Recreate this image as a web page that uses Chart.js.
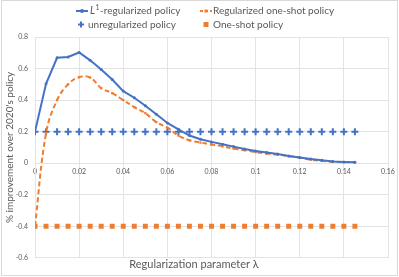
<!DOCTYPE html>
<html>
<head>
<meta charset="utf-8">
<script src="https://cdn.jsdelivr.net/npm/chart.js@4.4.1/dist/chart.umd.min.js"></script>
<style>
  html, body { margin: 0; padding: 0; background: #fff; }
  #wrap { position: relative; width: 399px; height: 277px; }
</style>
</head>
<body>
<div id="wrap"><canvas id="grafico"></canvas></div>
<script>
// dados
var lambdas = [0, 0.005, 0.01, 0.015, 0.02, 0.025, 0.03, 0.035, 0.04, 0.045,
  0.05, 0.055, 0.06, 0.065, 0.07, 0.075, 0.08, 0.085, 0.09, 0.095,
  0.1, 0.105, 0.11, 0.115, 0.12, 0.125, 0.13, 0.135, 0.14, 0.145];
var l1Policy = [0.2, 0.503, 0.668, 0.673, 0.702, 0.652, 0.594, 0.530, 0.457, 0.415,
  0.364, 0.310, 0.255, 0.215, 0.175, 0.152, 0.135, 0.120, 0.105, 0.090,
  0.077, 0.067, 0.058, 0.046, 0.036, 0.026, 0.018, 0.011, 0.008, 0.006];
var regOneShot = [-0.4, 0.19, 0.40, 0.50, 0.545, 0.543, 0.476, 0.444, 0.400, 0.356,
  0.317, 0.260, 0.225, 0.175, 0.145, 0.131, 0.118, 0.107, 0.093, 0.082,
  0.070, 0.061, 0.054, 0.045, 0.035, 0.022, 0.015, 0.009, 0.007, 0.005];
var unregPolicy = [0.2, 0.2, 0.2, 0.2, 0.2, 0.2, 0.2, 0.2, 0.2, 0.2,
  0.2, 0.2, 0.2, 0.2, 0.2, 0.2, 0.2, 0.2, 0.2, 0.2,
  0.2, 0.2, 0.2, 0.2, 0.2, 0.2, 0.2, 0.2, 0.2, 0.2];
var oneShotPolicy = [-0.4, -0.4, -0.4, -0.4, -0.4, -0.4, -0.4, -0.4, -0.4, -0.4,
  -0.4, -0.4, -0.4, -0.4, -0.4, -0.4, -0.4, -0.4, -0.4, -0.4,
  -0.4, -0.4, -0.4, -0.4, -0.4, -0.4, -0.4, -0.4, -0.4, -0.4];
var xTicks = [0, 0.02, 0.04, 0.06, 0.08, 0.1, 0.12, 0.14, 0.16];
var yTicks = [-0.6, -0.4, -0.2, 0, 0.2, 0.4, 0.6, 0.8];

var AZUL = '#4472C4';
var LARANJA = '#ED7D31';
var CINZA = '#595959';
var GRADE = '#e3e3e3';
var FONTE = 'Lato, "Liberation Sans", sans-serif';

function pontos(valores) {
  return lambdas.map(function (x, i) { return { x: x, y: valores[i] }; });
}

// fundo branco + moldura do grafico
var moldura = {
  id: 'moldura',
  beforeDraw: function (chart) {
    var c = chart.ctx;
    c.save();
    c.fillStyle = '#fff';
    c.fillRect(0, 0, chart.width, chart.height);
    c.strokeStyle = '#d9d9d9';
    c.lineWidth = 1;
    c.strokeRect(1.5, 0.5, chart.width - 3, chart.height - 2);
    c.restore();
  }
};

// legenda em grade 2x2 (estilo Excel)
var legenda = {
  id: 'legenda',
  afterDraw: function (chart) {
    var c = chart.ctx;
    c.save();
    c.font = '10px ' + FONTE;
    c.fillStyle = CINZA;
    c.textBaseline = 'middle';

    // L1-regularized
    var y1 = 11;
    c.strokeStyle = AZUL; c.lineWidth = 2;
    c.beginPath(); c.moveTo(76, y1); c.lineTo(88, y1); c.stroke();
    c.fillStyle = AZUL;
    c.beginPath(); c.arc(82, y1, 2, 0, Math.PI * 2); c.fill();
    c.fillStyle = CINZA;
    c.font = 'italic 10.5px ' + FONTE;
    c.fillText('L', 90, y1);
    var w = c.measureText('L').width;
    c.font = '7px ' + FONTE;
    c.fillText('1', 90 + w + 0.5, y1 - 3);
    var w2 = c.measureText('1').width;
    c.font = '10px ' + FONTE;
    c.fillText('-regularized policy', 90 + w + w2 + 1, y1);

    // Regularized one-shot
    c.strokeStyle = LARANJA; c.setLineDash([3, 2]);
    c.beginPath(); c.moveTo(200, y1); c.lineTo(212, y1); c.stroke();
    c.setLineDash([]);
    c.fillStyle = LARANJA;
    c.fillRect(204.5, y1 - 1.5, 3, 3);
    c.fillStyle = CINZA;
    c.fillText('Regularized one-shot policy', 213, y1);

    // unregularized
    var y2 = 24.5;
    c.strokeStyle = AZUL; c.lineWidth = 2;
    c.beginPath();
    c.moveTo(78, y2); c.lineTo(84, y2);
    c.moveTo(81, y2 - 3); c.lineTo(81, y2 + 3);
    c.stroke();
    c.fillText('unregularized policy', 88, y2);

    // One-shot
    c.fillStyle = LARANJA;
    c.fillRect(203.5, y2 - 2.5, 5, 5);
    c.fillStyle = CINZA;
    c.fillText('One-shot policy', 213, y2);
    c.restore();
  }
};

var ctx = document.getElementById('grafico').getContext('2d');
var grafico = new Chart(ctx, {
  type: 'line',
  data: {
    datasets: [{
      label: 'L1-regularized policy',
      data: pontos(l1Policy),
      borderColor: AZUL,
      backgroundColor: AZUL,
      borderWidth: 2,
      pointRadius: 1.5,
      pointBorderWidth: 0,
      tension: 0,
      order: 1
    }, {
      label: 'Regularized one-shot policy',
      data: pontos(regOneShot),
      borderColor: LARANJA,
      backgroundColor: LARANJA,
      borderWidth: 2,
      borderDash: [5, 3],
      pointStyle: 'rect',
      pointRadius: 1.6,
      pointBorderWidth: 0,
      tension: 0.4,
      order: 2
    }, {
      label: 'unregularized policy',
      data: pontos(unregPolicy),
      showLine: false,
      borderColor: AZUL,
      backgroundColor: AZUL,
      pointStyle: 'cross',
      pointRadius: 3.5,
      pointBorderWidth: 2,
      order: 3
    }, {
      label: 'One-shot policy',
      data: pontos(oneShotPolicy),
      showLine: false,
      borderColor: LARANJA,
      backgroundColor: LARANJA,
      pointStyle: 'rect',
      pointRadius: 3.5,
      pointBorderWidth: 0,
      order: 4
    }]
  },
  options: {
    responsive: true,
    maintainAspectRatio: false,
    animation: false,
    layout: { padding: { top: 37, right: 11, left: 0, bottom: 6 } },
    plugins: {
      legend: { display: false },
      tooltip: { enabled: false },
      title: {
        display: true,
        position: 'bottom',
        text: 'Regularization parameter \u03bb',
        color: CINZA,
        font: { family: FONTE, size: 11, weight: 'normal' },
        padding: { top: 0, bottom: 0 }
      }
    },
    scales: {
      x: {
        type: 'linear',
        position: { y: 0 },
        min: 0,
        max: 0.16,
        afterBuildTicks: function (s) { s.ticks = xTicks.map(function (v) { return { value: v }; }); },
        grid: { color: GRADE, drawTicks: false },
        border: { color: GRADE },
        ticks: {
          color: CINZA,
          padding: 4,
          font: { family: FONTE, size: 7 },
          callback: function (v) { return String(Math.round(v * 100) / 100); }
        }
      },
      y: {
        min: -0.6,
        max: 0.8,
        afterBuildTicks: function (s) { s.ticks = yTicks.map(function (v) { return { value: v }; }); },
        afterFit: function (s) { s.width = 35; },
        grid: { color: GRADE, drawTicks: false },
        border: { color: GRADE },
        ticks: {
          color: CINZA,
          padding: 7,
          font: { family: FONTE, size: 7 },
          callback: function (v) { return String(Math.round(v * 10) / 10); }
        },
        title: {
          display: true,
          text: "% improvement over 2020's policy",
          color: CINZA,
          font: { family: FONTE, size: 10 },
          padding: { top: 4, bottom: 0 }
        }
      }
    }
  },
  plugins: [moldura, legenda]
});
</script>
</body>
</html>
